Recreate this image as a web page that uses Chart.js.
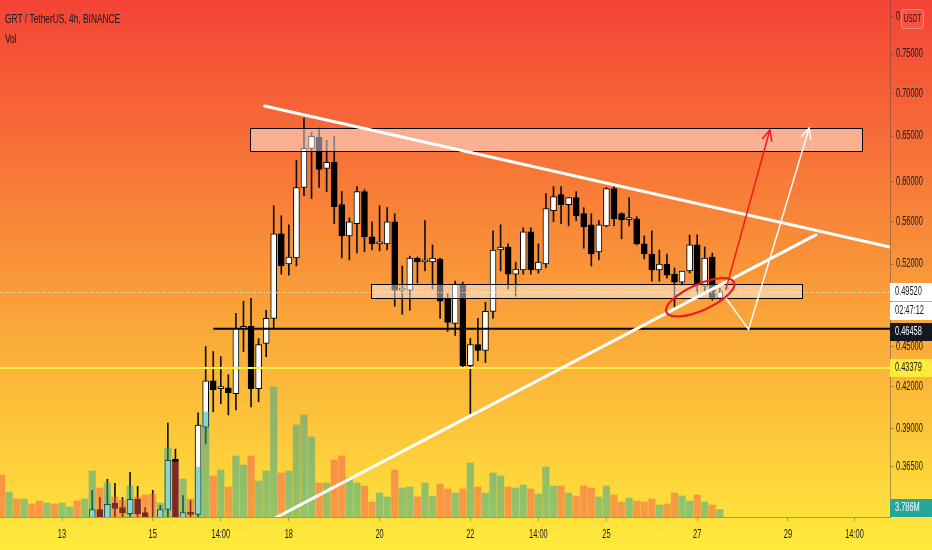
<!DOCTYPE html>
<html>
<head>
<meta charset="utf-8">
<script src="https://cdn.jsdelivr.net/npm/chart.js@4.4.1/dist/chart.umd.min.js"></script>
<style>
  html, body { margin: 0; padding: 0; }
  body { width: 932px; height: 550px; overflow: hidden;
         background: linear-gradient(180deg, #f44336 0%, #ffeb3b 100%); }
</style>
</head>
<body>
<canvas id="grtChart" width="932" height="550"></canvas>
<script>
// bar index 0 = day 13 00:00, one bar = 4h. First bar on screen is index -8.
const firstBar = -8;

const open = [
  null, null, null, null, null, null, null, null, null, null, null, null,
  0.3319, 0.3389, 0.3324, 0.3425, 0.3401, 0.3365, 0.3449, 0.3371, 0.3313, 0.3319,
  0.3389, 0.3700, 0.3319, 0.3371, 0.3360, 0.3913, 0.4242, 0.4184, 0.4191, 0.4147,
  0.4648, 0.4664, 0.4184, 0.4527, 0.4730, 0.5481, 0.5200, 0.5255, 0.5942, 0.6362,
  0.6486, 0.6143, 0.6208, 0.5767, 0.5462, 0.5578, 0.5900, 0.5452, 0.5386, 0.5386,
  0.5598, 0.4968, 0.4968, 0.5255, 0.5218, 0.5218, 0.5246, 0.4890, 0.4689, 0.5021,
  0.4356, 0.4519, 0.4472, 0.4788, 0.5329, 0.5357, 0.5109, 0.5146, 0.5500, 0.5146,
  0.5200, 0.5707, 0.5869, 0.5767, 0.5838, 0.5677, 0.5568, 0.5311, 0.5558, 0.5931,
  0.5677, 0.5618, 0.5627, 0.5386, 0.5292, 0.5146, 0.5200, 0.5109, 0.5038, 0.5137,
  0.5376, 0.5003, 0.5264, 0.4899
];
const high = [
  null, null, null, null, null, null, null, null, null, null, null, null,
  0.3504, 0.3461, 0.3572, 0.3547, 0.3461, 0.3616, 0.3529, 0.3401, 0.3504, 0.3413,
  0.3941, 0.3765, 0.3473, 0.3443, 0.4011, 0.4503, 0.4464, 0.4425, 0.4287, 0.4772,
  0.4873, 0.4899, 0.4567, 0.4797, 0.5757, 0.5657, 0.5568, 0.6230, 0.6706, 0.6543,
  0.6590, 0.6452, 0.6498, 0.5900, 0.5637, 0.5952, 0.5921, 0.5598, 0.5757, 0.5737,
  0.5676, 0.5182, 0.5273, 0.5264, 0.5608, 0.5376, 0.5255, 0.4942, 0.5047, 0.5038,
  0.4567, 0.4730, 0.4865, 0.5510, 0.5568, 0.5386, 0.5218, 0.5539, 0.5539, 0.5386,
  0.5880, 0.5952, 0.5952, 0.5838, 0.5900, 0.5737, 0.5677, 0.5608, 0.5942, 0.5962,
  0.5687, 0.5838, 0.5647, 0.5462, 0.5510, 0.5329, 0.5292, 0.5164, 0.5137, 0.5471,
  0.5471, 0.5357, 0.5301, 0.4985
];
const low = [
  null, null, null, null, null, null, null, null, null, null, null, null,
  0.3301, 0.3313, 0.3313, 0.3342, 0.3336, 0.3348, 0.3342, 0.3313, 0.3278, 0.3307,
  0.3342, 0.3307, 0.3307, 0.3324, 0.3342, 0.3799, 0.4018, 0.4075, 0.3997, 0.4032,
  0.4464, 0.4053, 0.4089, 0.4425, 0.4648, 0.5109, 0.5100, 0.5182, 0.5859, 0.5828,
  0.5942, 0.5900, 0.5578, 0.5255, 0.5237, 0.5301, 0.5311, 0.5329, 0.5320, 0.5329,
  0.4830, 0.4763, 0.4797, 0.5030, 0.5137, 0.4977, 0.4730, 0.4623, 0.4591, 0.4348,
  0.4004, 0.4394, 0.4379, 0.4730, 0.5137, 0.4977, 0.4916, 0.5109, 0.5109, 0.5118,
  0.5164, 0.5598, 0.5578, 0.5558, 0.5608, 0.5345, 0.5182, 0.5237, 0.5548, 0.5558,
  0.5433, 0.5558, 0.5376, 0.5246, 0.5047, 0.5047, 0.5074, 0.4822, 0.5012, 0.5118,
  0.4942, 0.4959, 0.4882, 0.4890
];
const close = [
  null, null, null, null, null, null, null, null, null, null, null, null,
  0.3389, 0.3324, 0.3419, 0.3395, 0.3371, 0.3449, 0.3365, 0.3324, 0.3290, 0.3389,
  0.3693, 0.3319, 0.3371, 0.3360, 0.3927, 0.4242, 0.4176, 0.4191, 0.4154, 0.4648,
  0.4656, 0.4184, 0.4519, 0.4730, 0.5481, 0.5182, 0.5264, 0.5942, 0.6362, 0.6498,
  0.6132, 0.6208, 0.5747, 0.5462, 0.5598, 0.5900, 0.5452, 0.5386, 0.5395, 0.5598,
  0.4968, 0.4977, 0.5255, 0.5218, 0.5237, 0.5255, 0.4873, 0.4697, 0.5021, 0.4356,
  0.4519, 0.4472, 0.4788, 0.5329, 0.5357, 0.5109, 0.5155, 0.5500, 0.5146, 0.5218,
  0.5727, 0.5849, 0.5767, 0.5838, 0.5657, 0.5548, 0.5292, 0.5568, 0.5931, 0.5627,
  0.5618, 0.5627, 0.5386, 0.5292, 0.5146, 0.5200, 0.5100, 0.5038, 0.5137, 0.5376,
  0.5021, 0.5255, 0.4899, 0.4952
];
// volume in millions
const volume = [
  21, 12.5, 9, 9, 6.5, 8, 7, 6.5, 7, 5, 8, 9,
  23, 14.5, 17, 10, 8.5, 15.5, 10, 11, 11.5, 7,
  34.5, 27.5, 19, 9, 25, 52.5, 20.5, 23.5, 15, 30.5,
  26, 30.5, 18, 23, 65, 22, 23, 46, 51, 40,
  17, 17, 28.5, 30.5, 19.5, 17, 15.5, 7.5, 12, 10,
  23.5, 14.5, 15, 10, 17, 10.5, 16.5, 14, 12, 14,
  27, 15, 12, 22, 20.5, 15, 14.5, 16, 14, 11.5,
  25, 15.5, 15.5, 12, 10.5, 15.5, 14.5, 10, 15.5, 11,
  7.5, 9.5, 8, 7.5, 9, 6, 6.5, 12, 10.5, 8,
  11, 7.5, 6, 3.786
];
// direction of the bars whose candles are below the visible range (1 = up)
const hiddenUp = [0, 1, 0, 1, 0, 0, 1, 0, 1, 1, 0, 1];

const yTickValues = [0.8, 0.75, 0.7, 0.65, 0.6, 0.56, 0.52, 0.48, 0.45, 0.42, 0.39, 0.365];
const xTickIndex = [0, 12, 21, 30, 42, 54, 63, 72, 84, 96, 104.8];
const xTickLabels = ['13', '15', '14:00', '18', '20', '22', '14:00', '25', '27', '29', '14:00'];

const lastPrice = 0.4952;
const supportLevel = 0.46458;
const yellowLevel = 0.43379;

// drawings, in bar index / price
const zones = [
  { from: 24.9, to: 105.8, top: 0.6590, bottom: 0.6329 },
  { from: 40.9, to: 97.9, top: 0.5021, bottom: 0.4899 }
];
const supportFrom = 20;
const trendTop = [[26.8, 0.6849], [109.5, 0.5357]];
const trendBottom = [[27.8, 0.3330], [99.7, 0.5471]];
const redPath = [[87.8, 0.4977], [93.6, 0.6567]];
const whitePath = [[87.8, 0.4899], [90.8, 0.4640], [98.8, 0.6590]];
const circleAt = [84.4, 0.4907];

const idx = volume.map((_, k) => firstBar + k);
const isUp = idx.map((_, k) => close[k] != null ? close[k] >= open[k] : hiddenUp[k] === 1);

const wickData = [], bodyData = [], bodyColors = [];
idx.forEach((i, k) => {
  if (open[k] == null) return;
  wickData.push({ x: i, y: [low[k], high[k]] });
  bodyData.push({ x: i, y: [open[k], close[k]] });
  bodyColors.push(isUp[k] ? '#ffffff' : '#000000');
});
const volData = idx.map((i, k) => ({ x: i, y: volume[k] }));
const volColors = isUp.map(u => u ? 'rgba(38,166,154,0.5)' : 'rgba(239,83,80,0.5)');

const SX = 0.62;
const textColor = '#131722';
const axisColor = 'rgba(70,70,70,0.45)';

function label(ctx, s, x, y, size, color, align) {
  ctx.save();
  ctx.translate(x, y);
  ctx.scale(SX, 1);
  ctx.font = size + 'px "Liberation Sans", Arial, sans-serif';
  ctx.fillStyle = color;
  ctx.textAlign = align;
  ctx.textBaseline = 'middle';
  ctx.fillText(s, 0, 0);
  ctx.restore();
}

function path(ctx, pts, head) {
  ctx.beginPath();
  pts.forEach((p, k) => k ? ctx.lineTo(p[0], p[1]) : ctx.moveTo(p[0], p[1]));
  ctx.stroke();
  if (!head) return;
  const [ax, ay] = pts[pts.length - 2], [bx, by] = pts[pts.length - 1];
  const ang = Math.atan2(by - ay, bx - ax), L = 11, s = 0.45;
  ctx.beginPath();
  ctx.moveTo(bx - L * Math.cos(ang - s), by - L * Math.sin(ang - s));
  ctx.lineTo(bx, by);
  ctx.lineTo(bx - L * Math.cos(ang + s), by - L * Math.sin(ang + s));
  ctx.stroke();
}

const drawings = {
  id: 'drawings',
  afterDatasetsDraw(chart) {
    const { ctx, chartArea: a, scales: { x, y } } = chart;
    const pt = p => [x.getPixelForValue(p[0]), y.getPixelForValue(p[1])];
    ctx.save();
    ctx.beginPath();
    ctx.rect(a.left, a.top, a.right - a.left, a.bottom - a.top);
    ctx.clip();

    zones.forEach(z => {
      const x0 = Math.round(x.getPixelForValue(z.from)), x1 = Math.round(x.getPixelForValue(z.to));
      const y0 = Math.round(y.getPixelForValue(z.top)), y1 = Math.round(y.getPixelForValue(z.bottom));
      ctx.fillStyle = 'rgba(255,255,255,0.45)';
      ctx.fillRect(x0, y0, x1 - x0, y1 - y0);
      ctx.strokeStyle = '#000';
      ctx.lineWidth = 1;
      ctx.strokeRect(x0 + 0.5, y0 + 0.5, x1 - x0, y1 - y0);
    });

    // yellow level
    let py = y.getPixelForValue(yellowLevel);
    ctx.strokeStyle = '#fff04a';
    ctx.lineWidth = 2;
    ctx.beginPath(); ctx.moveTo(a.left, py); ctx.lineTo(a.right, py); ctx.stroke();

    // support level
    py = y.getPixelForValue(supportLevel);
    ctx.strokeStyle = '#000';
    ctx.beginPath(); ctx.moveTo(x.getPixelForValue(supportFrom), py); ctx.lineTo(a.right, py); ctx.stroke();

    // last price dotted line
    py = Math.round(y.getPixelForValue(lastPrice)) + 0.5;
    ctx.strokeStyle = 'rgba(255,255,255,0.85)';
    ctx.lineWidth = 1;
    ctx.setLineDash([1, 2]);
    ctx.beginPath(); ctx.moveTo(a.left, py); ctx.lineTo(a.right, py); ctx.stroke();
    ctx.setLineDash([]);

    // trend lines
    ctx.strokeStyle = '#ffffff';
    ctx.lineWidth = 3;
    ctx.lineCap = 'round';
    path(ctx, trendTop.map(pt));
    path(ctx, trendBottom.map(pt));

    // projections
    ctx.lineWidth = 1.5;
    ctx.strokeStyle = '#ffffff';
    path(ctx, whitePath.map(pt), true);
    ctx.strokeStyle = '#ee1c1c';
    path(ctx, redPath.map(pt), true);

    const [cx, cy] = pt(circleAt);
    ctx.lineWidth = 2.2;
    ctx.beginPath();
    ctx.ellipse(cx, cy, 37, 13, -24 * Math.PI / 180, 0, Math.PI * 2);
    ctx.stroke();
    ctx.restore();
  },
  afterDraw(chart) {
    const { ctx, chartArea: a, scales: { x, y, yVol } } = chart;
    ctx.save();
    label(ctx, 'GRT / TetherUS, 4h, BINANCE', 5, 19, 13.5, textColor, 'left');
    label(ctx, 'Vol', 5, 39, 13.5, textColor, 'left');

    y.ticks.forEach(t => label(ctx, t.value.toFixed(5), a.right + 6, y.getPixelForValue(t.value), 12, textColor, 'left'));
    x.ticks.forEach(t => {
      const k = xTickIndex.indexOf(t.value);
      label(ctx, xTickLabels[k], x.getPixelForValue(t.value), 535, 12, textColor, 'center');
    });

    const tag = (txt, cy, bg, fg) => {
      ctx.fillStyle = bg;
      ctx.fillRect(a.right, Math.round(cy - 9), 932 - a.right, 18);
      label(ctx, txt, a.right + 5, cy, 12, fg, 'left');
    };
    const lastY = y.getPixelForValue(lastPrice);
    tag(lastPrice.toFixed(5), lastY, '#ffffff', textColor);
    tag('02:47:12', lastY + 19, '#ffffff', textColor);
    tag(supportLevel.toFixed(5), Math.max(y.getPixelForValue(supportLevel), lastY + 40), '#131722', '#ffffff');
    tag(yellowLevel.toFixed(5), y.getPixelForValue(yellowLevel), '#ffeb3b', textColor);
    const lastVol = volume[volume.length - 1];
    tag(lastVol.toFixed(3) + 'M', Math.min(yVol.getPixelForValue(lastVol), a.bottom - 9), '#26a69a', '#ffffff');

    // currency box
    ctx.fillStyle = 'rgb(246,84,66)';
    ctx.strokeStyle = '#ff8a7a';
    ctx.lineWidth = 1;
    ctx.beginPath();
    ctx.roundRect(901.5, 9.5, 22, 19, 3);
    ctx.fill();
    ctx.stroke();
    label(ctx, 'USDT', 912.5, 19, 10.5, textColor, 'center');
    ctx.restore();
  }
};

const ctx = document.getElementById('grtChart').getContext('2d');

const grtChart = new Chart(ctx, {
  type: 'bar',
  data: {
    datasets: [
      {
        label: 'Volume',
        data: volData,
        yAxisID: 'yVol',
        backgroundColor: volColors,
        barThickness: 6.5,
        grouped: false,
        order: 1
      },
      {
        label: 'Body',
        data: bodyData,
        yAxisID: 'y',
        backgroundColor: bodyColors,
        borderColor: '#000000',
        borderWidth: 1,
        borderSkipped: false,
        barThickness: 6,
        minBarLength: 2,
        grouped: false,
        order: 2
      },
      {
        label: 'Wick',
        data: wickData,
        yAxisID: 'y',
        backgroundColor: '#111111',
        barThickness: 1,
        grouped: false,
        order: 3
      }
    ]
  },
  options: {
    responsive: false,
    animation: false,
    devicePixelRatio: 1,
    events: [],
    layout: { padding: 0 },
    plugins: {
      legend: { display: false },
      tooltip: { enabled: false }
    },
    scales: {
      x: {
        type: 'linear',
        min: -8.2,
        max: 109.5,
        offset: false,
        bounds: 'data',
        afterBuildTicks: s => { s.ticks = xTickIndex.map(v => ({ value: v })); },
        afterFit: s => { s.height = 33; },
        ticks: { display: false },
        grid: { display: true, offset: false, drawOnChartArea: false, drawTicks: true, tickLength: 4, color: axisColor },
        border: { display: true, color: axisColor }
      },
      y: {
        type: 'logarithmic',
        position: 'right',
        min: 0.33450,
        max: 0.82407,
        bounds: 'data',
        afterBuildTicks: s => { s.ticks = yTickValues.map(v => ({ value: v })); },
        afterFit: s => { s.width = 42; },
        ticks: { display: false },
        grid: { display: true, drawOnChartArea: false, drawTicks: true, tickLength: 4, color: axisColor },
        border: { display: true, color: axisColor }
      },
      yVol: {
        type: 'linear',
        display: false,
        min: 0,
        max: 258.5
      }
    }
  },
  plugins: [drawings]
});
</script>
</body>
</html>
